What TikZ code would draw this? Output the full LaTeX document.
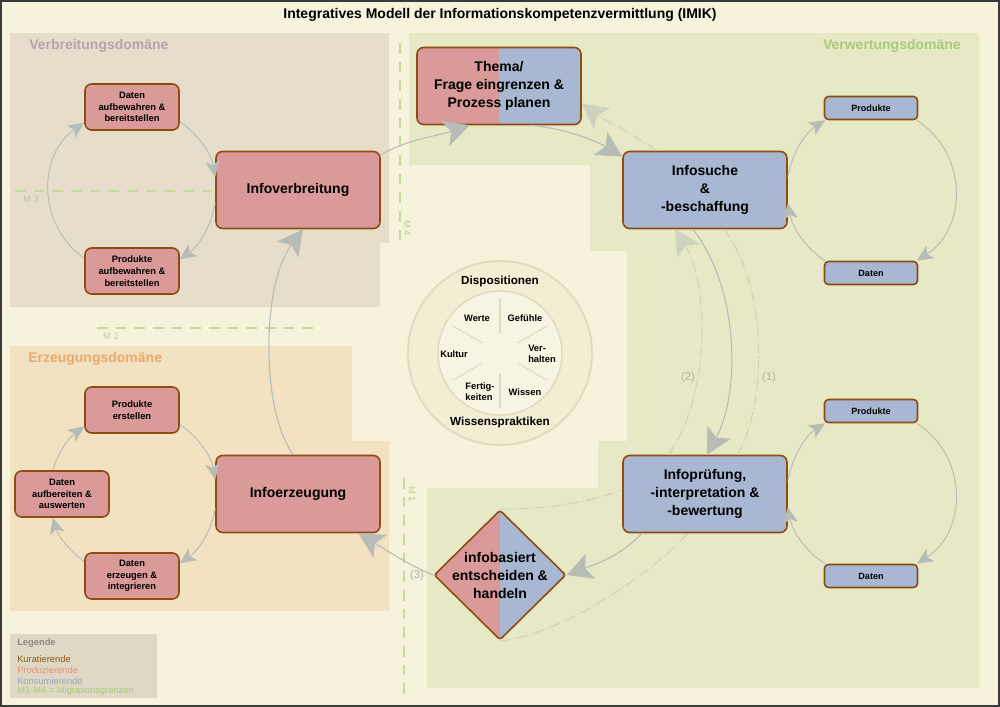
\documentclass[tikz,border=0pt]{standalone}
\usepackage{fontspec}
\setmainfont{Liberation Sans}
\usetikzlibrary{arrows.meta,shapes.geometric}
\definecolor{bgc}{HTML}{F7F2DB}
\definecolor{framec}{HTML}{3A3A3A}
\definecolor{verbc}{HTML}{E6DDCB}
\definecolor{erzc}{HTML}{F2E2C2}
\definecolor{verwc}{HTML}{E6E8C6}
\definecolor{legc}{HTML}{DFD8C4}
\definecolor{redf}{HTML}{DB9A9A}
\definecolor{bluef}{HTML}{A8B8D2}
\definecolor{brd}{HTML}{8E4B12}
\definecolor{conn}{HTML}{B7BCB6}
\definecolor{connl}{HTML}{CDD3BE}
\definecolor{migc}{HTML}{C6DB9E}
\definecolor{migt}{HTML}{B9D193}
\definecolor{verbt}{HTML}{B8A2B0}
\definecolor{erzt}{HTML}{E8A96C}
\definecolor{verwt}{HTML}{A9CB7E}
\definecolor{circb}{HTML}{E2DBBF}
\definecolor{ringf}{HTML}{F3EDD3}
\definecolor{innf}{HTML}{F8F4E2}
\definecolor{numt}{HTML}{B3B4A6}
\definecolor{legt}{HTML}{8C8A80}
\definecolor{kurt}{HTML}{8B5A14}
\definecolor{prot}{HTML}{E6907A}
\definecolor{kont}{HTML}{97A5BD}
\begin{document}
\begin{tikzpicture}[x=0.75pt,y=-0.75pt,
  box/.style={draw=brd, line width=1.2pt, rounded corners=5pt, align=center, inner sep=0pt},
  splitfill/.style={fill=bluef, path picture={\fill[redf, sharp corners] (path picture bounding box.south west) rectangle (path picture bounding box.north);}},
  bigbox/.style={box, minimum width=123pt, minimum height=57.75pt, font=\fontsize{10.5}{13.5}\selectfont\bfseries},
  smallbox/.style={box, fill=redf, minimum width=70.5pt, minimum height=34.5pt, font=\fontsize{7}{8.8}\selectfont\bfseries},
  tinybox/.style={box, fill=bluef, rounded corners=3pt, minimum width=69.75pt, minimum height=17.25pt, font=\fontsize{6.8}{8}\selectfont\bfseries},
  cycline/.style={draw=conn, line width=0.7pt, -{Stealth[length=12pt,width=11pt,inset=3pt]}},
  conline/.style={draw=conn, line width=0.8pt, -{Stealth[length=19pt,width=20pt,inset=4.5pt]}},
  ddline/.style={draw=connl, line width=0.8pt, dash pattern=on 8pt off 2pt on 1pt off 2pt},
  ddarrow/.style={ddline, -{Stealth[length=19pt,width=20pt,inset=4.5pt,fill=connl]}},
  migline/.style={draw=migc, line width=1.5pt, dash pattern=on 8pt off 6pt},
  migtext/.style={text=migt, font=\fontsize{7}{8}\selectfont, inner sep=0pt},
  domtext/.style={font=\fontsize{10.5}{12}\selectfont\bfseries, inner sep=0pt},
  sector/.style={font=\fontsize{7}{8.3}\selectfont\bfseries, inner sep=0pt, align=left},
  numtext/.style={text=numt, font=\fontsize{8.5}{10}\selectfont, inner sep=0pt},
  legtext/.style={font=\fontsize{7}{8}\selectfont, inner sep=0pt, anchor=west},
  spoke/.style={draw=circb, line width=0.8pt}
]
\useasboundingbox (0,0) rectangle (1000,707);
\fill[bgc] (0,0) rectangle (1000,707);
% domains
\fill[verbc] (10,33) -- (389,33) -- (389,243) -- (380,243) -- (380,307) -- (10,307) -- cycle;
\fill[erzc] (10,346) -- (352,346) -- (352,441) -- (389,441) -- (389,611) -- (10,611) -- cycle;
\fill[verwc] (409,33) -- (979,33) -- (979,688) -- (427,688) -- (427,488) -- (598,488) -- (598,441) -- (627,441) -- (627,251) -- (590,251) -- (590,165) -- (409,165) -- cycle;
\fill[legc] (10,634) rectangle (157,698);
\draw[framec, line width=1.5pt] (1,1) rectangle (999,706);

% title
\node[font=\fontsize{10.5}{12}\selectfont\bfseries, inner sep=0pt] (title) at (500,15) {Integratives Modell der Informationskompetenzvermittlung (IMIK)};
\node[domtext, text=verbt, anchor=west] (tverb) at (29,46) {Verbreitungsdomäne};
\node[domtext, text=erzt, anchor=west] (terz) at (28,359) {Erzeugungsdomäne};
\node[domtext, text=verwt, anchor=east] (tverw) at (961,46) {Verwertungsdomäne};

% migration borders
\coordinate (m3a) at (15,191); \coordinate (m3b) at (216,191);
\coordinate (m2a) at (97,328); \coordinate (m2b) at (313,328);
\coordinate (m4a) at (400,43); \coordinate (m4b) at (400,247);
\coordinate (m1a) at (404,478); \coordinate (m1b) at (404,695);
\draw[migline] (m3a) -- (m3b);
\draw[migline] (m2a) -- (m2b);
\draw[migline] (m4a) -- (m4b);
\draw[migline] (m1a) -- (m1b);
\node[migtext] (lm3) at (31,199) {M 3};
\node[migtext] (lm2) at (111,336) {M 2};
\node[migtext, rotate=-90] (lm4) at (407,228) {M 4};
\node[migtext, rotate=-90] (lm1) at (412,494) {M 1};

% disposition circle
\node[circle, draw=circb, line width=1.5pt, fill=ringf, minimum size=138pt, inner sep=0pt] (outc) at (500,353) {};
\node[circle, draw=circb, line width=1.2pt, fill=innf, minimum size=93pt, inner sep=0pt] (inc) at (500,353) {};
\foreach \a in {30,90,150,210,270,330}{
  \draw[spoke] (inc.center) ++(\a:20) -- ++(\a:35);
}
\node[font=\fontsize{8.8}{10}\selectfont\bfseries, inner sep=0pt] (disp) at (500,281) {Dispositionen};
\node[font=\fontsize{8.8}{10}\selectfont\bfseries, inner sep=0pt] (wprak) at (500,422) {Wissenspraktiken};
\node[sector] (werte) at (477,318) {Werte};
\node[sector] (gef) at (525,318) {Gefühle};
\node[sector] (kult) at (454,354) {Kultur};
\node[sector] (verh) at (542,354) {Ver-\\halten};
\node[sector] (fert) at (480,392) {Fertig-\\keiten};
\node[sector] (wiss) at (525,392) {Wissen};

% nodes
\node[smallbox] (dA) at (132,107) {Daten\\aufbewahren \&\\bereitstellen};
\node[smallbox] (pA) at (132,271) {Produkte\\aufbewahren \&\\bereitstellen};
\node[bigbox, fill=redf] (iv) at (298,190) {Infoverbreitung};
\node[smallbox] (pE) at (132,410) {Produkte\\erstellen};
\node[smallbox] (dAu) at (62,494) {Daten\\aufbereiten \&\\auswerten};
\node[smallbox] (dE) at (132,576) {Daten\\erzeugen \&\\integrieren};
\node[bigbox, fill=redf] (ie) at (298,494) {Infoerzeugung};
\node[bigbox, splitfill] (th) at (499,86) {Thema/\\Frage eingrenzen \&\\Prozess planen};
\node[bigbox, fill=bluef] (is) at (705,190) {Infosuche\\\&\\-beschaffung};
\node[bigbox, fill=bluef] (ip) at (705,494) {Infoprüfung,\\-interpretation \&\\-bewertung};
\node[tinybox] (pT) at (871,108) {Produkte};
\node[tinybox] (dT) at (871,273) {Daten};
\node[tinybox] (pB) at (871,411) {Produkte};
\node[tinybox] (dB) at (871,576) {Daten};
\node[diamond, draw=brd, line width=1.2pt, splitfill, rounded corners=2pt, aspect=1, minimum width=99pt, minimum height=97.5pt, inner sep=0pt] (dec) at (500,575) {};
\node[font=\fontsize{10.5}{13.5}\selectfont\bfseries, align=center, inner sep=0pt] (dect) at (dec.center) {infobasiert\\entscheiden \&\\handeln};

% Verbreitung cycle
\draw[cycline] (dA.-17) .. controls +(19,13) and +(-4,-23) .. (iv.171);
\draw[cycline] (iv.189) .. controls +(-4,23) and +(19,-13) .. (pA.14);
\draw[cycline] (pA.165) .. controls +(-47,-33) and +(-47,33) .. (dA.198);
% Erzeugung cycle
\draw[cycline] (pE.-17) .. controls +(19,13) and +(-4,-23) .. (ie.170);
\draw[cycline] (ie.190) .. controls +(-4,23) and +(19,-13) .. (dE.15);
\draw[cycline] (dE.163) .. controls +(-15,-11) and +(5,18) .. (dAu.249);
\draw[cycline] (dAu.111) .. controls +(5,-18) and +(-15,11) .. (pE.199);
% right cycles
\draw[cycline] (is.9) .. controls +(4,-23) and +(-20,12.5) .. (pT.195);
\draw[cycline] (pT.-15) .. controls +(51,33) and +(51,-33) .. (dT.15);
\draw[cycline] (dT.165) .. controls +(-20,-12.5) and +(4,23) .. (is.-9);
\draw[cycline] (ip.9) .. controls +(4,-23) and +(-20,12.5) .. (pB.195);
\draw[cycline] (pB.-15) .. controls +(51,33) and +(51,-33) .. (dB.15);
\draw[cycline] (dB.165) .. controls +(-20,-12.5) and +(4,23) .. (ip.-9);
% main flow
\draw[conline] (ie.97) .. controls +(-33,-46) and +(-41,55) .. (iv.-83);
\draw[conline] (iv.23) .. controls +(25,-15) and +(-30,10) .. (th.233);
\draw[conline] (th.-51) .. controls +(35,3) and +(-25,-15) .. (is.158);
\draw[conline] (is.253) .. controls +(47,60) and +(33,-61) .. (ip.87);
\draw[conline] (ip.212) .. controls +(-20,20) and +(40,-15) .. (dec.east);
\draw[conline] (dec.west) .. controls +(-25,-10) and +(25,15) .. (ie.-33);
% dash-dot feedback paths
\draw[ddarrow] (ip.133) .. controls +(41,-56) and +(35,58) .. (is.233);
\draw[ddline] (dec.north) .. controls +(40,0) and +(-40,15) .. (ip.177);
\draw[ddline] (dec.south) .. controls +(60,-5) and +(-35,40) .. (ip.246);
\draw[ddline] (ip.50) .. controls +(30,-56) and +(43,56) .. (is.-64);
\draw[ddarrow] (is.141) .. controls +(-20,-15) and +(20,15) .. (th.-12);
\node[numtext] (n2) at (688,378) {(2)};
\node[numtext] (n1) at (769,378) {(1)};
\node[numtext] (n3) at (417,576) {(3)};

% legend
\node[legtext, font=\fontsize{7}{8}\selectfont\bfseries, text=legt] (lg0) at (17,643) {Legende};
\node[legtext, text=kurt] (lg1) at (17,659) {Kuratierende};
\node[legtext, text=prot] (lg2) at (17,670) {Produzierende};
\node[legtext, text=kont] (lg3) at (17,681) {Konsumierende};
\node[legtext, text=verwt] (lg4) at (17,691) {M1-M4 = Migrationsgrenzen};
\end{tikzpicture}
\end{document}
